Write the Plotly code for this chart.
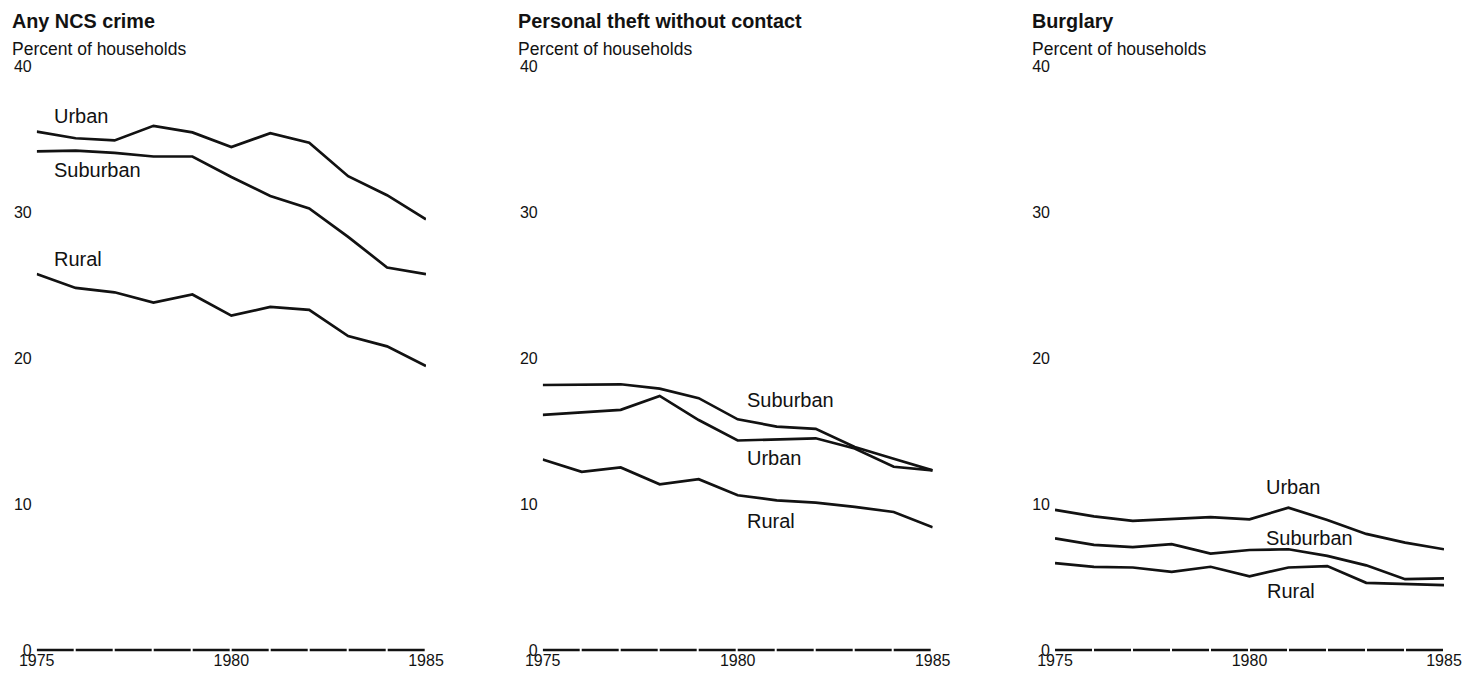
import plotly.graph_objects as go

years = list(range(1975, 1986))

# Any NCS crime
ncs_urban = [35.5, 35.05, 34.9, 35.9, 35.45, 34.45, 35.4, 34.75, 32.45, 31.15, 29.5]
ncs_suburban = [34.15, 34.2, 34.05, 33.8, 33.8, 32.4, 31.1, 30.25, 28.3, 26.2, 25.75]
ncs_rural = [25.75, 24.8, 24.5, 23.8, 24.35, 22.9, 23.5, 23.3, 21.5, 20.8, 19.45]

# Personal theft without contact
theft_suburban = [18.15, 18.15, 18.2, 17.9, 17.25, 15.8, 15.3, 15.15, 13.9, 13.1, 12.3]
theft_urban = [16.1, 16.3, 16.45, 17.4, 15.75, 14.35, 14.45, 14.5, 13.8, 12.55, 12.3]
theft_rural = [13.05, 12.2, 12.5, 11.35, 11.7, 10.6, 10.25, 10.1, 9.8, 9.45, 8.4]

# Burglary
burg_urban = [9.6, 9.15, 8.85, 8.95, 9.1, 8.95, 9.75, 8.9, 7.95, 7.35, 6.9]
burg_suburban = [7.65, 7.2, 7.05, 7.25, 6.6, 6.85, 6.9, 6.45, 5.8, 4.85, 4.9]
burg_rural = [5.95, 5.7, 5.65, 5.35, 5.7, 5.05, 5.65, 5.75, 4.6, 4.55, 4.45]

titles = ["Any NCS crime", "Personal theft without contact", "Burglary"]
y_title = "Percent of households"
x_ticks = [1975, 1980, 1985]
y_ticks = [0, 10, 20, 30, 40]

panels = [
    [("Urban", ncs_urban), ("Suburban", ncs_suburban), ("Rural", ncs_rural)],
    [("Suburban", theft_suburban), ("Urban", theft_urban), ("Rural", theft_rural)],
    [("Urban", burg_urban), ("Suburban", burg_suburban), ("Rural", burg_rural)],
]

# label anchor positions (year, value) for series names
label_pos = [
    {"Urban": (1975.40, 36.6), "Suburban": (1975.40, 32.9), "Rural": (1975.40, 26.8)},
    {"Suburban": (1980.20, 17.1), "Urban": (1980.20, 13.13), "Rural": (1980.20, 8.85)},
    {"Urban": (1980.37, 11.13), "Suburban": (1980.37, 7.68), "Rural": (1980.40, 4.05)},
]

# page body adds an 8px offset; figure sized to fill the window
W, H = 1468, 665
x_domains = [[0.019550, 0.284741], [0.364237, 0.629905], [0.713215, 0.978202]]
title_x = [0.001362, 0.346049, 0.696185]
y_domain = [0.023609, 0.912782]

FONT = "Liberation Sans, Arial, Helvetica, sans-serif"
INK = "#121212"

fig = go.Figure()
layout = dict(
    width=W, height=H,
    margin=dict(l=0, r=0, t=0, b=0, pad=0, autoexpand=False),
    paper_bgcolor="white", plot_bgcolor="white",
    showlegend=False,
    font=dict(family=FONT, color=INK, size=16),
)
annotations = []
shapes = []

for i, series in enumerate(panels):
    xa = "x" if i == 0 else f"x{i+1}"
    ya = "y" if i == 0 else f"y{i+1}"
    for name, vals in series:
        fig.add_trace(go.Scatter(
            x=years, y=vals, mode="lines", name=name,
            line=dict(color=INK, width=2.7),
            xaxis=xa, yaxis=ya, hoverinfo="skip",
        ))
        lx, lv = label_pos[i][name]
        annotations.append(dict(
            x=lx, y=lv, xref=xa, yref=ya, text=name, showarrow=False,
            xanchor="left", yanchor="middle",
            font=dict(family=FONT, size=20, color=INK),
        ))
    # dashed baseline at zero
    shapes.append(dict(
        type="line", xref=xa, yref=ya, x0=years[0], x1=years[-1], y0=0, y1=0,
        line=dict(color=INK, width=2.6, dash="37px,2px"), layer="above",
    ))
    axn = "" if i == 0 else str(i + 1)
    layout[f"xaxis{axn}"] = dict(
        domain=x_domains[i], range=[years[0], years[-1]], anchor=ya,
        tickvals=x_ticks, ticktext=[str(t) for t in x_ticks],
        showgrid=False, zeroline=False, showline=False, ticks="",
        tickfont=dict(family=FONT, size=16, color=INK),
        ticklabelstandoff=-8, automargin=False,
    )
    layout[f"yaxis{axn}"] = dict(
        domain=y_domain, range=[-0.5, 40], anchor=xa,
        tickvals=y_ticks, ticktext=[str(t) for t in y_ticks],
        showgrid=False, zeroline=False, showline=False, ticks="",
        tickfont=dict(family=FONT, size=16, color=INK),
        ticklabelstandoff=4, automargin=False,
    )
    annotations.append(dict(
        x=title_x[i], y=0.980451, xref="paper", yref="paper", text=f"<b>{titles[i]}</b>",
        showarrow=False, xanchor="left", yanchor="middle",
        font=dict(family=FONT, size=19.8, color=INK),
    ))
    annotations.append(dict(
        x=title_x[i], y=0.938346, xref="paper", yref="paper", text=y_title,
        showarrow=False, xanchor="left", yanchor="middle",
        font=dict(family=FONT, size=17.5, color=INK),
    ))

# scan edge line on the right
shapes.append(dict(type="line", xref="paper", yref="paper", x0=0.99864, x1=0.99864,
                   y0=0.04, y1=0.98, line=dict(color=INK, width=1.8)))

layout["annotations"] = annotations
layout["shapes"] = shapes
fig.update_layout(**layout)
fig.write_html("out.html")
